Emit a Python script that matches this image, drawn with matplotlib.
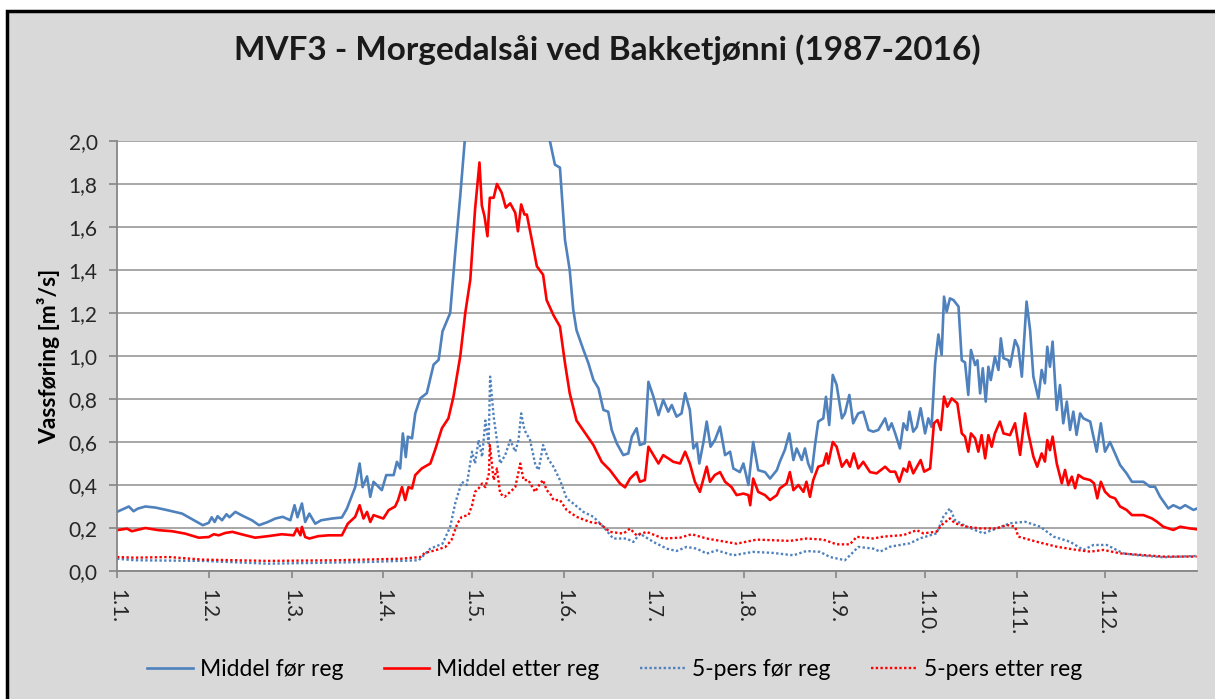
import matplotlib
matplotlib.use("Agg")
import matplotlib.pyplot as plt
from matplotlib.patches import Rectangle

plt.rcParams['font.family'] = ['Lato', 'DejaVu Sans']

# month start positions (day of year) and labels
month_days = [0, 31, 59, 90, 120, 151, 181, 212, 243, 273, 304, 334]
month_labels = ["1.1.", "1.2.", "1.3.", "1.4.", "1.5.", "1.6.",
                "1.7.", "1.8.", "1.9.", "1.10.", "1.11.", "1.12."]

# Middel før reg (values above 2.0 are cut off)
mid_for_day = [0, 4, 5.6, 7, 9.6, 13, 17, 22, 25, 29, 31, 32, 33, 34, 35.5, 37, 38, 40, 42, 45.6,
               48, 51, 53.5, 56, 58.6, 60, 61, 62.5, 63.6, 65, 67, 69, 72.6, 76, 77.7, 80.5, 82, 83,
               84.5, 85.6, 86.7, 89.5, 91, 93.5, 94.6, 95.7, 96.6, 97.6, 98.3, 99.7, 100.8, 102.5,
               104.7, 107, 108.7, 110, 112.6, 114.3, 116, 117.5, 119, 122, 126, 131, 136, 141, 145,
               146.3, 148, 149.7, 151.4, 153, 154.2, 155.3, 157.6, 159.3, 161, 162.7, 164.4, 166,
               167.2, 168.9, 171.1, 172.8, 174, 175.6, 176.7, 178.4, 179.6, 181.3, 183, 184.6, 186.3,
               187.5, 189.1, 190.8, 192, 193.6, 194.8, 196, 196.8, 198.2, 199.3, 200.6, 202.1, 203.8,
               205.5, 207.2, 208.3, 210.5, 211.7, 213.4, 215, 216.7, 219, 220.7, 223, 224, 225.7,
               227.2, 228.6, 229.7, 231.4, 232.5, 233.6, 234.8, 235.9, 237, 238.7, 239.6, 240.7,
               241.9, 243.2, 245, 246, 247.5, 248.8, 250.5, 252.2, 254, 255.6, 257.3, 259.6, 260.7,
               261.8, 263, 264.6, 265.8, 267, 267.8, 269.1, 270.3, 271.6, 273.1, 274.2, 275.3, 276.5,
               277.6, 278.7, 279.5, 280.4, 281.5, 282.7, 284.4, 285.5, 286.6, 287.7, 288.6, 290,
               290.8, 291.7, 292.6, 293.6, 294.5, 295.3, 296.7, 297.9, 298.7, 299.6, 301.3, 301.8,
               303.5, 304.6, 305.8, 307.4, 308.6, 309.7, 311.4, 312.5, 313.6, 314.4, 315.3, 316.2,
               317.6, 318.7, 319.8, 321, 322.1, 323.2, 324.3, 325.5, 326.6, 328.9, 331.1, 332.5,
               333.9, 335.6, 337.3, 339, 341.2, 343, 346.9, 349.1, 350.8, 352.5, 355.3, 357, 359.3,
               361, 363.8, 364.9]
mid_for_val = [0.275, 0.30, 0.278, 0.29, 0.30, 0.295, 0.283, 0.267, 0.244, 0.213, 0.224, 0.25, 0.228,
               0.255, 0.236, 0.264, 0.25, 0.275, 0.26, 0.236, 0.213, 0.228, 0.244, 0.252, 0.236, 0.306,
               0.25, 0.314, 0.228, 0.267, 0.22, 0.236, 0.244, 0.249, 0.29, 0.39, 0.50, 0.39, 0.44,
               0.345, 0.415, 0.376, 0.446, 0.446, 0.508, 0.477, 0.64, 0.53, 0.625, 0.617, 0.733,
               0.803, 0.827, 0.96, 0.982, 1.114, 1.2, 1.48, 1.744, 2.0, 2.25, 2.5, 2.7, 2.6, 2.5, 2.3,
               2.1, 2.0, 1.89, 1.876, 1.54, 1.40, 1.215, 1.12, 1.03, 0.967, 0.889, 0.85, 0.749, 0.741,
               0.656, 0.594, 0.539, 0.547, 0.625, 0.664, 0.586, 0.594, 0.88, 0.81, 0.725, 0.796,
               0.741, 0.772, 0.718, 0.733, 0.827, 0.749, 0.57, 0.594, 0.50, 0.60, 0.695, 0.578, 0.61,
               0.671, 0.539, 0.555, 0.477, 0.46, 0.50, 0.40, 0.60, 0.469, 0.46, 0.43, 0.469, 0.508,
               0.563, 0.64, 0.516, 0.57, 0.516, 0.57, 0.50, 0.46, 0.586, 0.695, 0.71, 0.81, 0.679,
               0.912, 0.866, 0.71, 0.733, 0.819, 0.687, 0.733, 0.741, 0.656, 0.648, 0.656, 0.71,
               0.656, 0.687, 0.64, 0.57, 0.687, 0.656, 0.741, 0.648, 0.67, 0.757, 0.64, 0.71, 0.67,
               0.966, 1.10, 1.005, 1.276, 1.206, 1.268, 1.26, 1.23, 0.98, 0.97, 0.819, 1.028, 0.958,
               0.98, 0.826, 0.943, 0.788, 0.95, 0.888, 0.997, 0.935, 1.082, 0.99, 0.98, 0.95, 1.074,
               1.04, 0.904, 1.253, 1.12, 0.904, 0.803, 0.935, 0.873, 1.043, 0.95, 1.067, 0.749,
               0.865, 0.687, 0.788, 0.656, 0.741, 0.633, 0.733, 0.71, 0.695, 0.555, 0.687, 0.555,
               0.60, 0.547, 0.493, 0.454, 0.415, 0.415, 0.392, 0.392, 0.346, 0.291, 0.306, 0.291,
               0.306, 0.284, 0.29]

# Middel etter reg
mid_etter_day = [0, 3.4, 5, 9.6, 14, 18.6, 23, 27.6, 31, 32.7, 34.4, 36.6, 39, 42, 46.7, 51, 55.7,
                 59.7, 60.8, 62, 62.5, 63.6, 65, 68, 71.5, 76, 78, 80.5, 82, 83.3, 84.5, 85.6, 86.7,
                 90, 91.8, 94, 95, 96.3, 97.4, 98.5, 99.7, 100.8, 103, 105.9, 107.5, 109.8, 112,
                 113.7, 116, 117.7, 119.4, 121, 122.5, 123.3, 124.2, 125.2, 126, 127.3, 128.4, 130,
                 131.4, 132.9, 134.6, 135.5, 136.6, 137.7, 138.5, 140.2, 141.9, 144, 145.2, 147.5,
                 149.7, 151.4, 153, 155.3, 158.7, 161, 163.8, 166.6, 170, 171.7, 173.4, 175.6, 176.7,
                 178.4, 179.6, 181.3, 183, 184.6, 186.3, 188, 190.3, 192, 193.6, 195.3, 197, 199.3,
                 200.4, 202, 203.8, 205.5, 207.7, 209.4, 211.7, 213.4, 214, 215, 216.7, 219, 220.7,
                 223, 224, 226.3, 227.4, 228.6, 230.3, 232, 233, 234.2, 235.3, 237, 238.7, 239.8,
                 240.4, 241.9, 243.2, 245, 246.6, 247.7, 249, 250.5, 252.2, 254.5, 256.7, 259.6,
                 261.3, 263, 264.4, 265.8, 267, 267.8, 269.1, 271.6, 272.8, 274.8, 276.1, 277.3,
                 278.4, 279.5, 280.6, 282.1, 284, 285.5, 286.6, 287.7, 288.6, 290, 291.1, 292.2,
                 293.4, 294.5, 295.6, 296.7, 298.4, 299.6, 301.8, 303.5, 305.2, 306.9, 308, 309.7,
                 311, 312.5, 313.6, 314.4, 315.3, 316.2, 317.6, 319.3, 320.4, 321.5, 322.7, 323.8,
                 324.9, 326.6, 328.9, 330.2, 331.3, 332.5, 333.9, 335.6, 337.3, 339, 341.2, 343,
                 346.9, 349.7, 351.4, 353.6, 357, 359.3, 362.6, 364.9]
mid_etter_val = [0.19, 0.197, 0.185, 0.20, 0.19, 0.185, 0.174, 0.155, 0.158, 0.171, 0.166, 0.177,
                 0.182, 0.171, 0.155, 0.162, 0.171, 0.166, 0.197, 0.166, 0.205, 0.158, 0.151, 0.162,
                 0.166, 0.166, 0.22, 0.252, 0.306, 0.244, 0.275, 0.228, 0.26, 0.244, 0.283, 0.30,
                 0.33, 0.39, 0.33, 0.39, 0.384, 0.446, 0.477, 0.50, 0.563, 0.664, 0.71, 0.81, 0.998,
                 1.2, 1.355, 1.68, 1.90, 1.70, 1.65, 1.557, 1.736, 1.736, 1.80, 1.76, 1.69, 1.71,
                 1.666, 1.58, 1.705, 1.658, 1.658, 1.54, 1.417, 1.378, 1.26, 1.19, 1.137, 0.967,
                 0.827, 0.70, 0.632, 0.586, 0.508, 0.469, 0.407, 0.389, 0.43, 0.46, 0.415, 0.423,
                 0.578, 0.539, 0.50, 0.539, 0.524, 0.508, 0.50, 0.555, 0.50, 0.415, 0.368, 0.485,
                 0.415, 0.446, 0.46, 0.415, 0.39, 0.353, 0.36, 0.353, 0.306, 0.43, 0.368, 0.353,
                 0.33, 0.353, 0.384, 0.407, 0.46, 0.376, 0.40, 0.368, 0.415, 0.345, 0.423, 0.485,
                 0.493, 0.547, 0.50, 0.60, 0.578, 0.485, 0.516, 0.485, 0.547, 0.477, 0.508, 0.46,
                 0.454, 0.485, 0.462, 0.462, 0.415, 0.477, 0.462, 0.508, 0.454, 0.516, 0.462, 0.477,
                 0.687, 0.702, 0.656, 0.811, 0.764, 0.803, 0.78, 0.64, 0.625, 0.555, 0.64, 0.617,
                 0.555, 0.632, 0.524, 0.632, 0.578, 0.64, 0.695, 0.64, 0.632, 0.687, 0.54, 0.733,
                 0.64, 0.532, 0.485, 0.547, 0.509, 0.609, 0.562, 0.625, 0.50, 0.408, 0.47, 0.40,
                 0.439, 0.385, 0.447, 0.431, 0.423, 0.408, 0.338, 0.415, 0.369, 0.346, 0.338, 0.30,
                 0.284, 0.26, 0.26, 0.245, 0.23, 0.206, 0.191, 0.206, 0.198, 0.194]

# 5-pers før reg
pers_for_day = [0, 6, 29, 51, 85, 102, 105.9, 110, 112.6, 114.3, 116.5, 118.2, 120, 121, 122.2,
                123.4, 124.5, 125.6, 126.1, 127.3, 128.4, 129.5, 131.2, 132.9, 134.6, 135.7, 136.6,
                137.7, 139.6, 141.4, 142.5, 144, 145.8, 147.5, 149.7, 152, 154.2, 157.6, 161, 164.4,
                167.7, 172.2, 174.5, 176.7, 181.3, 185.8, 189.1, 192.5, 195.9, 199.3, 202.7, 208.3,
                215, 221.8, 228.6, 233, 237.6, 241, 246, 248.3, 250.5, 255.6, 257.9, 261.3, 268,
                271.4, 277, 279.3, 281.5, 283.2, 287.2, 292.8, 297.3, 301.8, 306.9, 312, 316.5,
                322.1, 326.6, 330, 334.5, 340.1, 344.6, 353.6, 364.9]
pers_for_val = [0.057, 0.05, 0.047, 0.034, 0.042, 0.05, 0.104, 0.127, 0.205, 0.314, 0.415, 0.40,
                0.555, 0.50, 0.609, 0.531, 0.70, 0.594, 0.904, 0.718, 0.609, 0.50, 0.539, 0.609,
                0.555, 0.609, 0.733, 0.656, 0.609, 0.493, 0.47, 0.586, 0.52, 0.485, 0.423, 0.337,
                0.314, 0.275, 0.252, 0.205, 0.151, 0.151, 0.135, 0.174, 0.135, 0.104, 0.093, 0.112,
                0.104, 0.081, 0.096, 0.073, 0.089, 0.084, 0.073, 0.093, 0.089, 0.065, 0.05, 0.081,
                0.112, 0.104, 0.09, 0.113, 0.129, 0.152, 0.175, 0.253, 0.291, 0.237, 0.206, 0.175,
                0.198, 0.222, 0.229, 0.206, 0.16, 0.136, 0.098, 0.121, 0.121, 0.082, 0.074, 0.064,
                0.07]

# 5-pers etter reg
pers_etter_day = [0, 6, 17.5, 29, 51, 74, 96, 102.5, 104, 107.5, 111, 113, 115, 116.5, 118.8, 120,
                  121, 122.2, 123.4, 124.5, 125.7, 126, 127.3, 128.4, 129.5, 131, 132.9, 134.6,
                  136.3, 137.4, 139, 141.3, 143, 144, 145.2, 146.4, 147.5, 149.7, 152, 155.3, 159.8,
                  163.2, 166.6, 171.1, 173.4, 175.6, 179, 184.6, 190.3, 194.2, 199.3, 209.4, 216.2,
                  227.4, 233, 238.7, 243.2, 247.7, 250, 255.6, 259, 265.8, 270.3, 272.5, 277, 278.7,
                  281.5, 283.2, 287.2, 291.7, 297.3, 300.7, 303.5, 304.6, 310.8, 317.6, 324.3,
                  328.9, 333.4, 339, 346.9, 353.6, 364.9]
pers_etter_val = [0.065, 0.062, 0.065, 0.053, 0.047, 0.05, 0.057, 0.065, 0.084, 0.096, 0.112,
                  0.143, 0.22, 0.252, 0.26, 0.306, 0.368, 0.384, 0.407, 0.39, 0.454, 0.586, 0.423,
                  0.477, 0.36, 0.345, 0.368, 0.39, 0.50, 0.423, 0.423, 0.368, 0.407, 0.423, 0.376,
                  0.36, 0.33, 0.33, 0.283, 0.252, 0.228, 0.22, 0.182, 0.174, 0.197, 0.166, 0.182,
                  0.151, 0.155, 0.171, 0.151, 0.127, 0.146, 0.14, 0.151, 0.146, 0.124, 0.124, 0.159,
                  0.151, 0.16, 0.167, 0.19, 0.175, 0.183, 0.214, 0.245, 0.222, 0.206, 0.198, 0.198,
                  0.214, 0.206, 0.16, 0.136, 0.113, 0.098, 0.09, 0.098, 0.082, 0.074, 0.067, 0.067]

blue = "#4F81BD"
red = "#FF0000"

fig = plt.figure(figsize=(12.15, 6.99), dpi=100, facecolor="white")
# grey chart area with dark frame
fig.patches.append(Rectangle((7 / 1215, -0.02), 1.05, 1 - 11 / 699 + 0.02,
                             transform=fig.transFigure, facecolor="#d9d9d9",
                             edgecolor="black", linewidth=2.5, zorder=-10))

ax = fig.add_axes([117 / 1215, 1 - 571 / 699, 1080 / 1215, 430 / 699])
ax.set_facecolor("white")

ax.plot(mid_for_day, mid_for_val, color=blue, lw=1.9, label="Middel før reg")
ax.plot(mid_etter_day, mid_etter_val, color=red, lw=1.9, label="Middel etter reg")
ax.plot(pers_for_day, pers_for_val, color=blue, lw=1.7, ls=(0, (1, 1)), label="5-pers før reg")
ax.plot(pers_etter_day, pers_etter_val, color=red, lw=1.7, ls=(0, (1, 1)), label="5-pers etter reg")

ax.set_xlim(0, 365)
ax.set_ylim(0, 2.0)
yt = [i * 0.2 for i in range(11)]
ax.set_yticks(yt)
ax.set_yticklabels([f"{v:.1f}".replace(".", ",") for v in yt], fontsize=15, color="#262626")
ax.set_xticks(month_days)
ax.set_xticklabels(month_labels, rotation=-90, fontsize=15, color="#262626")
ax.tick_params(axis="y", length=6, width=1.2, color="#868686", pad=8)
ax.tick_params(axis="x", length=5, width=1.2, color="#868686", pad=8)
ax.grid(axis="y", color="#a0a0a0", lw=1.3)
ax.set_axisbelow(True)
for s in ["top", "right"]:
    ax.spines[s].set_visible(False)
for s in ["left", "bottom"]:
    ax.spines[s].set_color("#868686")
    ax.spines[s].set_linewidth(1.3)

ax.set_ylabel("Vassføring [m³/s]", fontsize=16.5, fontweight="bold", labelpad=6)
fig.text(0.5, 1 - 50 / 699, "MVF3 - Morgedalsåi ved Bakketjønni (1987-2016)",
         ha="center", va="center", fontsize=24, fontweight="bold", color="#1a1a1a")

fig.legend(loc="center", bbox_to_anchor=(0.5058, 1 - 670 / 699), ncol=4, frameon=False,
           fontsize=16.5, handlelength=2.0, columnspacing=1.75, handletextpad=0.3)

fig.savefig("out.png", dpi=100, facecolor=fig.get_facecolor())
